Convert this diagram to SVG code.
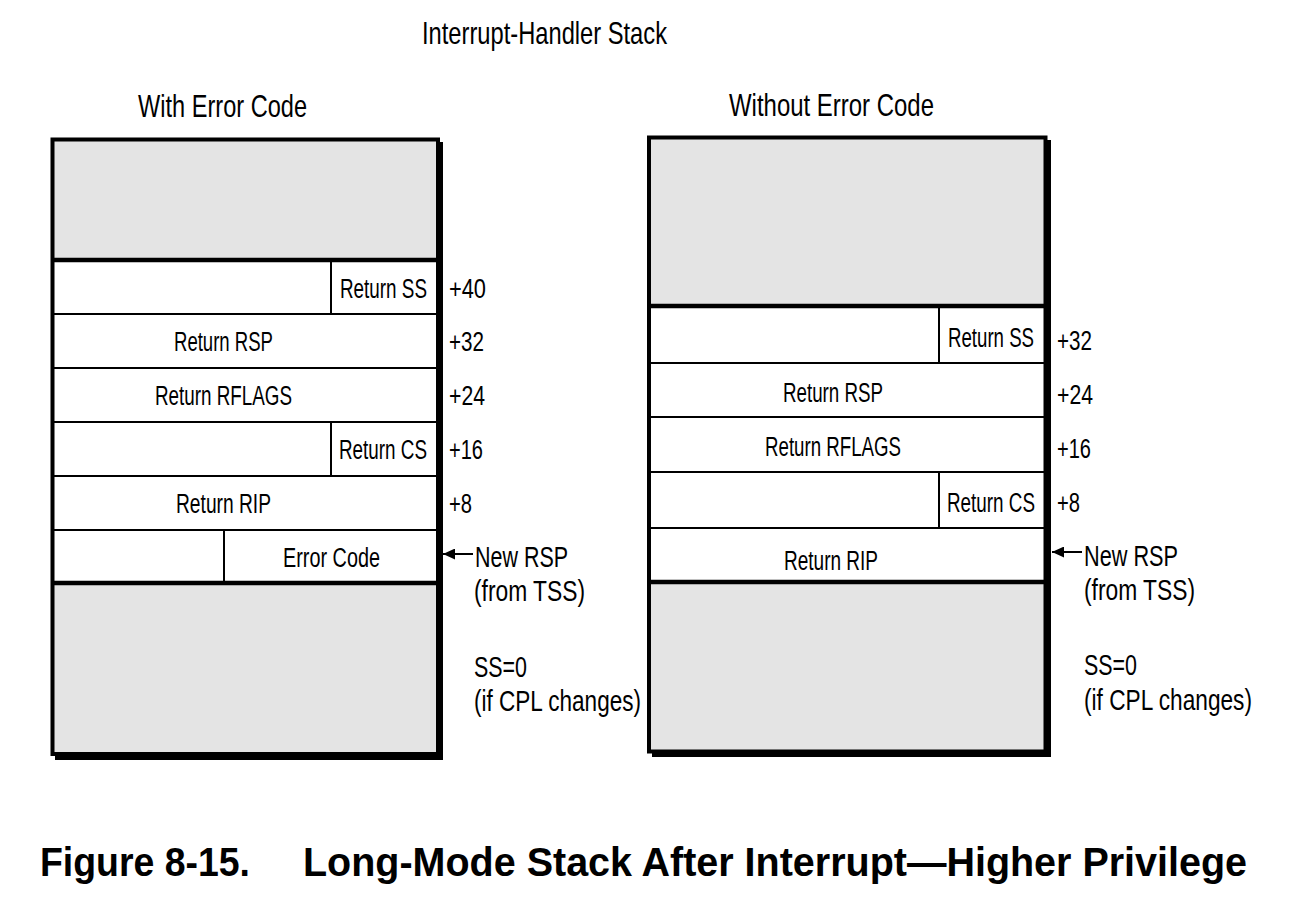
<svg xmlns="http://www.w3.org/2000/svg" width="1308" height="908" viewBox="0 0 1308 908">
<defs>
<style>
.t{font-family:"Liberation Sans Narrow","Liberation Sans",Arial,sans-serif;fill:#000}
.lbl{font-size:27px}
.hd{font-size:32px}
.side{font-size:29px}
.cap{font-family:"Liberation Sans",Arial,sans-serif;font-weight:bold;font-size:40px;fill:#000}
.gray{fill:#e4e4e4}
.white{fill:#fff}
.thin{stroke:#000;stroke-width:2;fill:none}
.thick{stroke:#000;stroke-width:4.5;fill:none}
.frame{stroke:#000;stroke-width:4;fill:none}
.shadow{fill:#000}
.conn{stroke:#000;stroke-width:2;fill:none}
</style>
<marker id="ah" viewBox="0 0 12 11" refX="12" refY="5.5" markerWidth="12" markerHeight="11" markerUnits="userSpaceOnUse" orient="auto">
<path d="M0,0 L12,5.5 L0,11 Z" fill="#000"/>
</marker>
</defs>
<rect width="1308" height="908" fill="#fff"/>

<g id="titles">
<text class="t hd" x="422" y="44" textLength="245" lengthAdjust="spacingAndGlyphs">Interrupt-Handler Stack</text>
<text class="t hd" x="138" y="117" textLength="169" lengthAdjust="spacingAndGlyphs">With Error Code</text>
<text class="t hd" x="729" y="116" textLength="205" lengthAdjust="spacingAndGlyphs">Without Error Code</text>
</g>

<g id="stack-with-error-code">
<rect class="shadow" x="55" y="142" width="388" height="618"/>
<rect class="white" x="52.5" y="139.5" width="385.5" height="614.5"/>
<rect class="gray" x="52.5" y="139.5" width="385.5" height="120.5"/>
<rect class="gray" x="52.5" y="583" width="385.5" height="171"/>
<line class="thick" x1="52.5" y1="260" x2="438" y2="260"/>
<line class="thin" x1="52.5" y1="314" x2="438" y2="314"/>
<line class="thin" x1="52.5" y1="368" x2="438" y2="368"/>
<line class="thin" x1="52.5" y1="422" x2="438" y2="422"/>
<line class="thin" x1="52.5" y1="476" x2="438" y2="476"/>
<line class="thin" x1="52.5" y1="530" x2="438" y2="530"/>
<line class="thick" x1="52.5" y1="583" x2="438" y2="583"/>
<line class="thin" x1="331" y1="260" x2="331" y2="314"/>
<line class="thin" x1="331" y1="422" x2="331" y2="476"/>
<line class="thin" x1="224" y1="530" x2="224" y2="583"/>
<rect class="frame" x="52.5" y="139.5" width="385.5" height="614.5"/>
<text class="t lbl" transform="translate(340,298) scale(0.75,1)" x="0" y="0" textLength="116" lengthAdjust="spacingAndGlyphs">Return SS</text>
<text class="t lbl" x="174" y="351" textLength="99" lengthAdjust="spacingAndGlyphs">Return RSP</text>
<text class="t lbl" x="155" y="405" textLength="137" lengthAdjust="spacingAndGlyphs">Return RFLAGS</text>
<text class="t lbl" transform="translate(339,459) scale(0.75,1)" x="0" y="0" textLength="117.3" lengthAdjust="spacingAndGlyphs">Return CS</text>
<text class="t lbl" x="176" y="513" textLength="95" lengthAdjust="spacingAndGlyphs">Return RIP</text>
<text class="t lbl" x="283" y="567" textLength="97" lengthAdjust="spacingAndGlyphs">Error Code</text>
<text class="t lbl" x="449" y="298" textLength="37" lengthAdjust="spacingAndGlyphs">+40</text>
<text class="t lbl" x="449" y="351" textLength="35" lengthAdjust="spacingAndGlyphs">+32</text>
<text class="t lbl" x="449" y="405" textLength="36" lengthAdjust="spacingAndGlyphs">+24</text>
<text class="t lbl" x="449" y="459" textLength="34" lengthAdjust="spacingAndGlyphs">+16</text>
<text class="t lbl" x="449" y="513" textLength="23" lengthAdjust="spacingAndGlyphs">+8</text>
<text class="t side" x="475" y="567" textLength="93" lengthAdjust="spacingAndGlyphs">New RSP</text>
<text class="t side" x="474" y="601" textLength="111" lengthAdjust="spacingAndGlyphs">(from TSS)</text>
<text class="t side" x="474" y="677" textLength="53" lengthAdjust="spacingAndGlyphs">SS=0</text>
<text class="t side" x="474" y="711" textLength="167" lengthAdjust="spacingAndGlyphs">(if CPL changes)</text>
</g>

<g id="stack-without-error-code">
<rect class="shadow" x="652" y="140" width="399" height="617"/>
<rect class="white" x="649" y="137.5" width="396.5" height="614"/>
<rect class="gray" x="649" y="137.5" width="396.5" height="168.5"/>
<rect class="gray" x="649" y="582" width="396.5" height="169.5"/>
<line class="thick" x1="649" y1="306" x2="1045.5" y2="306"/>
<line class="thin" x1="649" y1="363" x2="1045.5" y2="363"/>
<line class="thin" x1="649" y1="417" x2="1045.5" y2="417"/>
<line class="thin" x1="649" y1="472" x2="1045.5" y2="472"/>
<line class="thin" x1="649" y1="528" x2="1045.5" y2="528"/>
<line class="thick" x1="649" y1="582" x2="1045.5" y2="582"/>
<line class="thin" x1="939" y1="306" x2="939" y2="363"/>
<line class="thin" x1="939" y1="472" x2="939" y2="528"/>
<rect class="frame" x="649" y="137.5" width="396.5" height="614"/>
<text class="t lbl" transform="translate(948,347) scale(0.75,1)" x="0" y="0" textLength="114.7" lengthAdjust="spacingAndGlyphs">Return SS</text>
<text class="t lbl" x="783" y="402" textLength="100" lengthAdjust="spacingAndGlyphs">Return RSP</text>
<text class="t lbl" x="765" y="456" textLength="136" lengthAdjust="spacingAndGlyphs">Return RFLAGS</text>
<text class="t lbl" transform="translate(947,512) scale(0.75,1)" x="0" y="0" textLength="117.3" lengthAdjust="spacingAndGlyphs">Return CS</text>
<text class="t lbl" x="784" y="570" textLength="94" lengthAdjust="spacingAndGlyphs">Return RIP</text>
<text class="t lbl" x="1057" y="350" textLength="35" lengthAdjust="spacingAndGlyphs">+32</text>
<text class="t lbl" x="1057" y="404" textLength="36" lengthAdjust="spacingAndGlyphs">+24</text>
<text class="t lbl" x="1057" y="458" textLength="34" lengthAdjust="spacingAndGlyphs">+16</text>
<text class="t lbl" x="1057" y="512" textLength="23" lengthAdjust="spacingAndGlyphs">+8</text>
<text class="t side" x="1084" y="566" textLength="94" lengthAdjust="spacingAndGlyphs">New RSP</text>
<text class="t side" x="1084" y="600" textLength="111" lengthAdjust="spacingAndGlyphs">(from TSS)</text>
<text class="t side" x="1084" y="675" textLength="53" lengthAdjust="spacingAndGlyphs">SS=0</text>
<text class="t side" x="1084" y="710" textLength="168" lengthAdjust="spacingAndGlyphs">(if CPL changes)</text>
</g>

<g id="connectors">
<line class="conn" x1="473" y1="554" x2="443" y2="554" marker-end="url(#ah)"/>
<line class="conn" x1="1082" y1="552" x2="1052" y2="552" marker-end="url(#ah)"/>
</g>

<g id="caption">
<text class="cap" y="876"><tspan x="40" textLength="210" lengthAdjust="spacingAndGlyphs">Figure 8-15.</tspan><tspan x="303" textLength="944" lengthAdjust="spacingAndGlyphs">Long-Mode Stack After Interrupt—Higher Privilege</tspan></text>
</g>
</svg>
